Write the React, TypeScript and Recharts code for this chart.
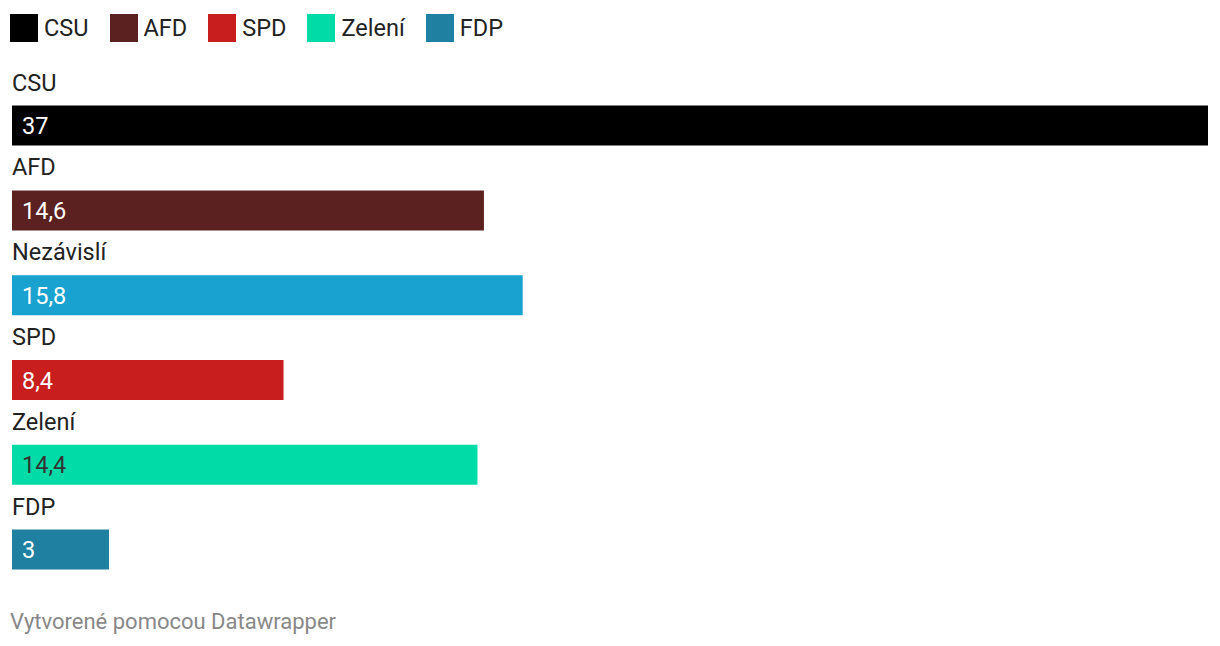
import React from 'react';
import { BarChart, Bar, XAxis, YAxis, Cell, LabelList } from 'recharts';

const parties = ['CSU', 'AFD', 'Nezávislí', 'SPD', 'Zelení', 'FDP'];
const values = [37, 14.6, 15.8, 8.4, 14.4, 3];
const barColors = ['#000000', '#5b2121', '#19a2cf', '#c81e1e', '#00dba8', '#1f80a1'];
const valueColors = ['#ffffff', '#ffffff', '#ffffff', '#ffffff', '#333333', '#ffffff'];
const legendNames = ['CSU', 'AFD', 'SPD', 'Zelení', 'FDP'];
const legendColors = ['#000000', '#5b2121', '#c81e1e', '#00dba8', '#1f80a1'];
const footerText = 'Vytvorené pomocou Datawrapper';

const data = parties.map((p, i) => ({ party: p, value: values[i] }));

const fmt = (v: number) => String(v).replace('.', ',');

const NameLabel = (props: any) => {
  const { x, y, index } = props;
  return (
    <text x={Number(x)} y={Number(y) - 15} fontSize={23.5} fill="#222222" fontFamily="Roboto">
      {parties[index]}
    </text>
  );
};

const ValueLabel = (props: any) => {
  const { x, y, height, index } = props;
  return (
    <text
      x={Number(x) + 10}
      y={Number(y) + Number(height) / 2 + 8.5}
      fontSize={23.5}
      fill={valueColors[index]}
      fontFamily="Roboto"
    >
      {fmt(values[index])}
    </text>
  );
};

export default function App() {
  return (
    <div
      style={{
        position: 'absolute',
        left: 0,
        top: 0,
        width: 1220,
        height: 646,
        background: '#ffffff',
        fontFamily: 'Roboto, sans-serif',
        overflow: 'hidden',
      }}
    >
      <div style={{ position: 'absolute', left: 10, top: 14, display: 'flex', alignItems: 'center' }}>
        {legendNames.map((n, i) => (
          <div key={n} style={{ display: 'flex', alignItems: 'center', marginRight: 21 }}>
            <div style={{ width: 28, height: 28, background: legendColors[i], marginRight: 6 }} />
            <span style={{ fontSize: 23.5, lineHeight: '28px', color: '#222222' }}>{n}</span>
          </div>
        ))}
      </div>
      <div style={{ position: 'absolute', left: 0, top: 0 }}>
        <BarChart
          width={1220}
          height={646}
          data={data}
          layout="vertical"
          margin={{ top: 83.6, right: 12, bottom: 53.6, left: 12 }}
        >
          <XAxis type="number" domain={[0, 37]} hide />
          <YAxis type="category" dataKey="party" hide width={0} />
          <Bar dataKey="value" barSize={40} isAnimationActive={false}>
            {data.map((d, i) => (
              <Cell key={d.party} fill={barColors[i]} />
            ))}
            <LabelList dataKey="party" content={NameLabel} />
            <LabelList dataKey="value" content={ValueLabel} />
          </Bar>
        </BarChart>
      </div>
      <div
        style={{
          position: 'absolute',
          left: 10,
          top: 609,
          fontSize: 22,
          lineHeight: '26px',
          color: '#888888',
        }}
      >
        {footerText}
      </div>
    </div>
  );
}
